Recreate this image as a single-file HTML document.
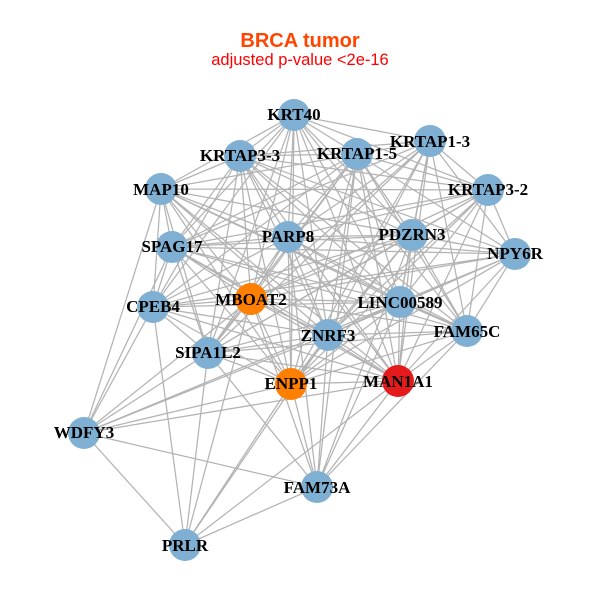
<!DOCTYPE html>
<html><head><meta charset="utf-8"><style>
html,body{margin:0;padding:0;background:#fff}
svg{display:block}
.l{font-family:"Liberation Serif",serif;font-weight:bold;font-size:17px;fill:#000;text-anchor:middle}
.t{font-family:"Liberation Sans",sans-serif;text-anchor:middle}
</style></head><body>
<svg width="600" height="600" viewBox="0 0 600 600" xmlns="http://www.w3.org/2000/svg">
<rect width="600" height="600" fill="#fff"/>
<g fill="none" stroke="#b3b3b3" stroke-width="1.25">
<path d="M294 115L240 156M294 115L161 189M294 115L172 247M294 115L288 237M294 115L357 154M294 115L430 141M294 115L488 190M294 115L412 235M294 115L400 302M294 115L467 331M294 115L328 335M294 115L398 381M294 115L291 384M294 115L153 307M294 115L251 299M294 115L208 353"/>
<path d="M240 156L161 189M240 156L172 247M240 156L288 237M240 156L357 154M240 156L430 141M240 156L488 190M240 156L412 235M240 156L515 254M240 156L400 302M240 156L467 331M240 156L328 335M240 156L398 381M240 156L291 384M240 156L153 307M240 156L251 299M240 156L208 353"/>
<path d="M161 189L172 247M161 189L288 237M161 189L357 154M161 189L488 190M161 189L412 235M161 189L515 254M161 189L400 302M161 189L467 331M161 189L328 335M161 189L398 381M161 189L291 384M161 189L153 307M161 189L251 299M161 189L208 353M161 189L84 433"/>
<path d="M172 247L288 237M172 247L357 154M172 247L430 141M172 247L488 190M172 247L412 235M172 247L515 254M172 247L400 302M172 247L467 331M172 247L328 335M172 247L398 381M172 247L291 384M172 247L153 307M172 247L251 299M172 247L208 353M172 247L84 433"/>
<path d="M288 237L357 154M288 237L430 141M288 237L488 190M288 237L412 235M288 237L515 254M288 237L400 302M288 237L467 331M288 237L328 335M288 237L398 381M288 237L291 384M288 237L317 487M288 237L153 307M288 237L251 299M288 237L208 353"/>
<path d="M357 154L430 141M357 154L488 190M357 154L412 235M357 154L515 254M357 154L400 302M357 154L467 331M357 154L328 335M357 154L398 381M357 154L291 384M357 154L317 487M357 154L153 307M357 154L251 299M357 154L208 353"/>
<path d="M430 141L488 190M430 141L412 235M430 141L515 254M430 141L400 302M430 141L467 331M430 141L328 335M430 141L398 381M430 141L291 384M430 141L251 299M430 141L208 353"/>
<path d="M488 190L412 235M488 190L515 254M488 190L400 302M488 190L467 331M488 190L328 335M488 190L398 381M488 190L291 384M488 190L251 299M488 190L208 353"/>
<path d="M412 235L515 254M412 235L400 302M412 235L467 331M412 235L328 335M412 235L398 381M412 235L291 384M412 235L317 487M412 235L153 307M412 235L251 299M412 235L208 353"/>
<path d="M515 254L400 302M515 254L467 331M515 254L328 335M515 254L398 381M515 254L291 384M515 254L153 307M515 254L251 299"/>
<path d="M400 302L467 331M400 302L328 335M400 302L398 381M400 302L291 384M400 302L317 487M400 302L153 307M400 302L251 299M400 302L208 353M400 302L84 433"/>
<path d="M467 331L328 335M467 331L398 381M467 331L291 384M467 331L317 487M467 331L251 299M467 331L208 353"/>
<path d="M328 335L398 381M328 335L291 384M328 335L317 487M328 335L153 307M328 335L251 299M328 335L208 353M328 335L84 433M328 335L185 545"/>
<path d="M398 381L291 384M398 381L317 487M398 381L153 307M398 381L251 299M398 381L208 353M398 381L84 433M398 381L185 545"/>
<path d="M291 384L317 487M291 384L153 307M291 384L251 299M291 384L208 353M291 384L84 433M291 384L185 545"/>
<path d="M317 487L251 299M317 487L208 353M317 487L84 433M317 487L185 545"/>
<path d="M153 307L251 299M153 307L208 353M153 307L84 433M153 307L185 545"/>
<path d="M251 299L208 353M251 299L84 433M251 299L185 545"/>
<path d="M208 353L84 433M208 353L185 545M84 433L185 545"/>
</g>
<g fill="#7fb0d3">
<circle cx="294" cy="115" r="16"/><circle cx="240" cy="156" r="16"/><circle cx="161" cy="189" r="16"/><circle cx="172" cy="247" r="16"/><circle cx="288" cy="237" r="16"/><circle cx="357" cy="154" r="16"/><circle cx="430" cy="141" r="16"/><circle cx="488" cy="190" r="16"/><circle cx="412" cy="235" r="16"/><circle cx="515" cy="254" r="16"/><circle cx="400" cy="302" r="16"/><circle cx="467" cy="331" r="16"/><circle cx="328" cy="335" r="16"/><circle cx="317" cy="487" r="16"/><circle cx="153" cy="307" r="16"/><circle cx="208" cy="353" r="16"/><circle cx="84" cy="433" r="16"/><circle cx="185" cy="545" r="16"/>
</g>
<circle cx="251" cy="299" r="16" fill="#ff7f00"/>
<circle cx="291" cy="384" r="16" fill="#ff7f00"/>
<circle cx="398" cy="381" r="16" fill="#e41a1c"/>
<g>
<text class="l" x="294" y="120">KRT40</text>
<text class="l" x="240" y="161">KRTAP3-3</text>
<text class="l" x="161" y="195">MAP10</text>
<text class="l" x="172" y="252">SPAG17</text>
<text class="l" x="288" y="242">PARP8</text>
<text class="l" x="357" y="159">KRTAP1-5</text>
<text class="l" x="430" y="147">KRTAP1-3</text>
<text class="l" x="488" y="195">KRTAP3-2</text>
<text class="l" x="412" y="240">PDZRN3</text>
<text class="l" x="515" y="259">NPY6R</text>
<text class="l" x="400" y="308">LINC00589</text>
<text class="l" x="467" y="337">FAM65C</text>
<text class="l" x="328" y="341">ZNRF3</text>
<text class="l" x="398" y="387">MAN1A1</text>
<text class="l" x="291" y="389">ENPP1</text>
<text class="l" x="317" y="493">FAM73A</text>
<text class="l" x="153" y="312">CPEB4</text>
<text class="l" x="251" y="305">MBOAT2</text>
<text class="l" x="208" y="358">SIPA1L2</text>
<text class="l" x="84" y="438">WDFY3</text>
<text class="l" x="185" y="551">PRLR</text>
</g>
<text class="t" x="300" y="47" font-size="20" font-weight="bold" fill="#ff4500">BRCA tumor</text>
<text class="t" x="300" y="65" font-size="16.5" fill="#ff0000">adjusted p-value &lt;2e-16</text>
</svg>
</body></html>
